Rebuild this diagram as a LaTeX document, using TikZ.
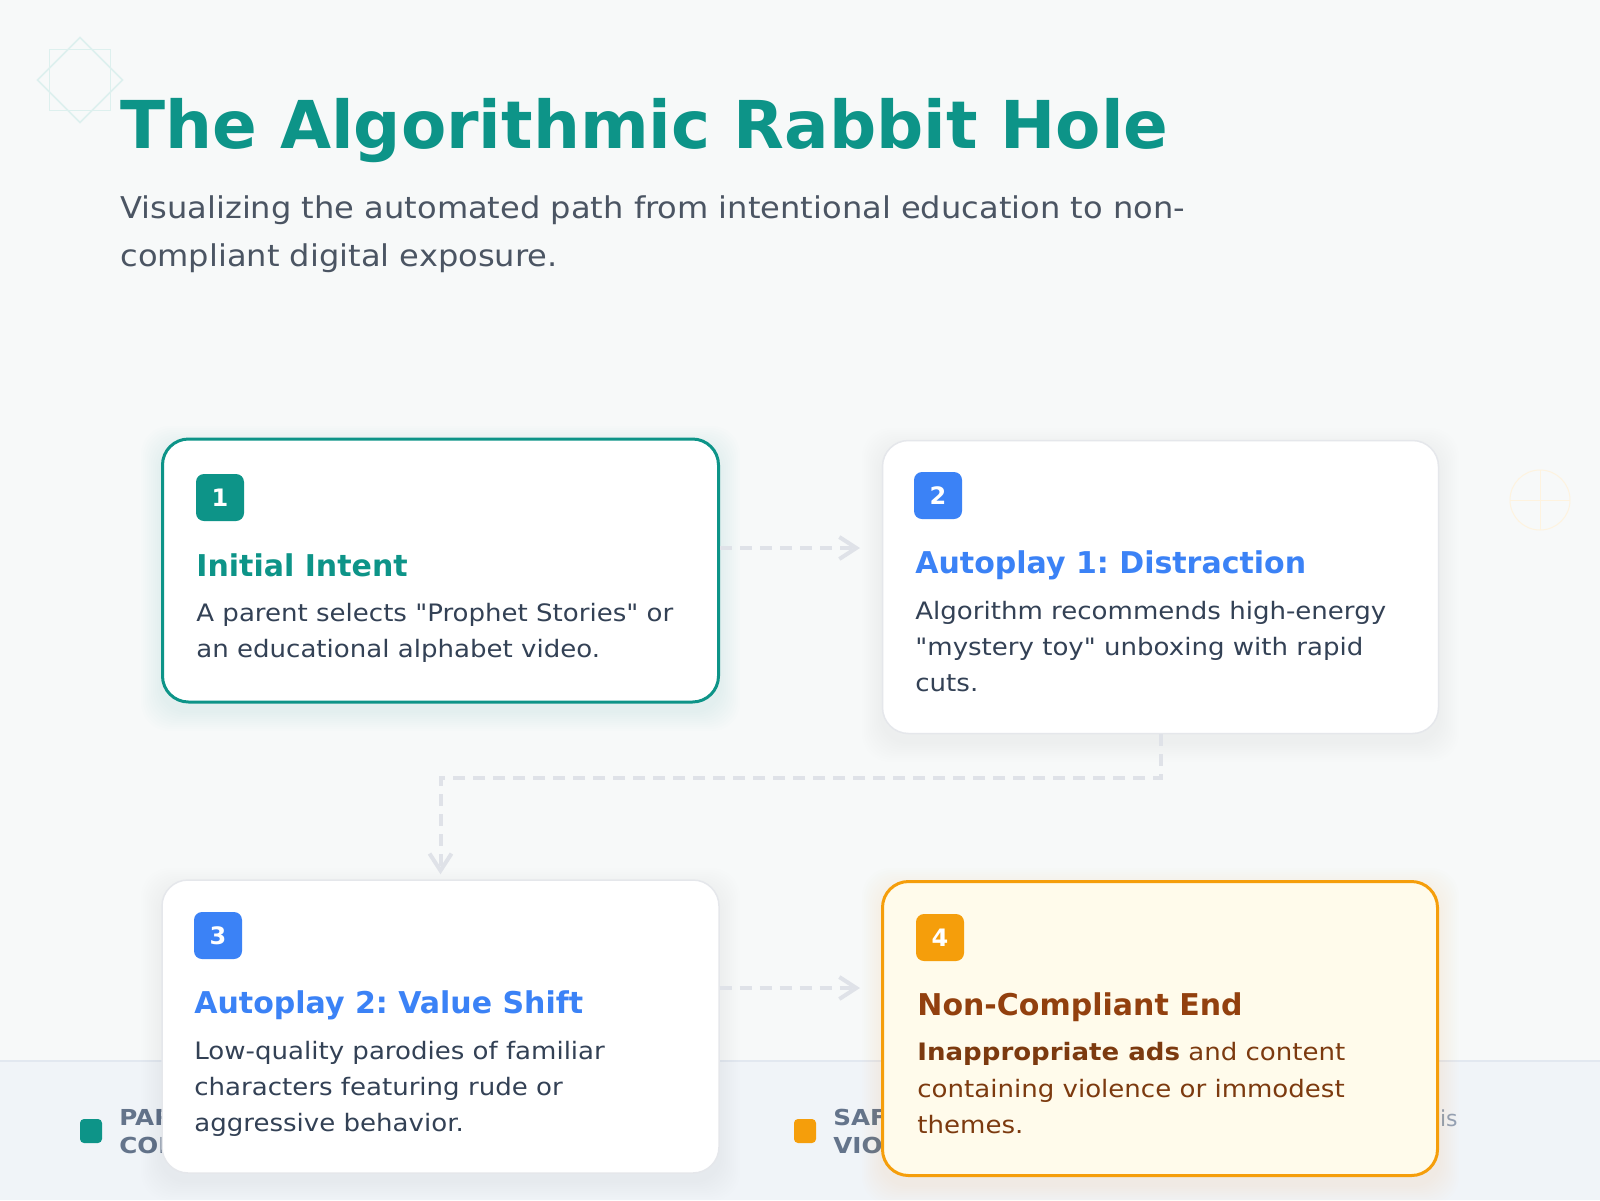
\documentclass[tikz,border=0pt]{standalone}
\usepackage{fontspec}
\setmainfont{DejaVu Sans}[Ligatures=TeXOff]
\newfontfamily\bodyfont{DejaVu Sans}[FakeStretch=1.085,Ligatures=TeXOff]
\newfontfamily\subfont{DejaVu Sans}[FakeStretch=1.07,Ligatures=TeXOff]
\newfontfamily\legfont{DejaVu Sans}[FakeStretch=1.12,Ligatures=TeXOff]
\usetikzlibrary{arrows.meta}
\definecolor{bgc}{HTML}{F7F9F9}
\definecolor{tealc}{HTML}{0D9488}
\definecolor{bluec}{HTML}{3B82F6}
\definecolor{amberc}{HTML}{F59E0B}
\definecolor{brownh}{HTML}{92400E}
\definecolor{brownb}{HTML}{7C3A0F}
\definecolor{amberbg}{HTML}{FFFBEB}
\definecolor{bodyc}{HTML}{334155}
\definecolor{subc}{HTML}{4B5563}
\definecolor{borderc}{HTML}{E5E7EB}
\definecolor{footc}{HTML}{F0F4F8}
\definecolor{footline}{HTML}{E2E8F0}
\definecolor{legc}{HTML}{64748B}
\definecolor{lightc}{HTML}{94A3B8}
\definecolor{dashc}{HTML}{DFE2E8}
\newcommand\myfs[2]{\fontsize{#1}{#2}\selectfont}
\newcommand\cardshadow[6]{%
  \foreach \i in {1,...,10}{%
    \fill[#5,opacity=#6,rounded corners=14pt] ({#1-2*\i},{#2-2*\i+8}) rectangle ({#3+2*\i},{#4+2*\i+8});}}
\frenchspacing
\begin{document}
\begin{tikzpicture}[x=0.5pt,y=-0.5pt,
  card/.style={rectangle,rounded corners=13pt,draw=borderc,line width=0.75pt,fill=white,inner sep=0pt,minimum width=278pt},
  badge/.style={rectangle,rounded corners=4pt,minimum width=24pt,minimum height=23.5pt,inner sep=0pt,text=white,font=\myfs{12}{14}\bfseries},
  head/.style={anchor=base west,inner sep=0pt,font=\myfs{15}{18}\bfseries},
  body/.style={anchor=base west,inner sep=0pt,font=\bodyfont\myfs{12}{18},text=bodyc},
  leg/.style={anchor=base west,inner sep=0pt,font=\legfont\myfs{11}{14}\bfseries,text=legc},
  conn/.style={draw=dashc,line width=2pt,dash pattern=on 6pt off 4pt,-{Straight Barb[length=8.5pt,width=11pt,line width=2pt]}}]
\useasboundingbox (0,0) rectangle (1600,1200);
\fill[bgc] (0,0) rectangle (1600,1200);
% decorations
\draw[tealc!14,line width=0.75pt] (49.5,49.5) rectangle (110.5,110.5);
\draw[tealc!14,line width=0.75pt] (80,37.5) -- (122.5,80) -- (80,122.5) -- (37.5,80) -- cycle;
\draw[amberc!13,line width=0.5pt] (1540,500) circle[radius=15pt];
\draw[amberc!13,line width=0.5pt] (1510,500) -- (1570,500) (1540,470) -- (1540,530);
% title
\node[anchor=base west,inner sep=0pt,font=\myfs{33}{40}\bfseries,text=tealc] (title) at (120,148) {The Algorithmic Rabbit Hole};
\node[anchor=base west,inner sep=0pt,font=\subfont\myfs{15}{24},text=subc] (sub1) at (120,218) {Visualizing the automated path from intentional education to non-};
\node[anchor=base west,inner sep=0pt,font=\subfont\myfs{15}{24},text=subc] (sub2) at (120,266) {compliant digital exposure.};
% footer
\fill[footc] (0,1061) rectangle (1600,1200);
\draw[footline,line width=1pt] (0,1061) -- (1600,1061);
\node[fill=tealc,rounded corners=2pt,minimum width=11pt,minimum height=12pt,inner sep=0pt] (lsq1) at (91,1131) {};
\node[leg] (lt1a) at (119,1125) {PAR};
\node[leg] (lt1b) at (119,1153) {CON};
\node[fill=amberc,rounded corners=2pt,minimum width=11pt,minimum height=12pt,inner sep=0pt] (lsq2) at (805,1131) {};
\node[leg] (lt2a) at (833,1125) {SAF};
\node[leg] (lt2b) at (833,1153) {VIO};
\node[anchor=base east,inner sep=0pt,font=\myfs{11}{14},text=lightc] (lt3) at (1458,1126) {Analysis};
% shadows
\cardshadow{161}{438}{720}{703}{tealc}{0.009}
\cardshadow{882}{440}{1439}{734}{black}{0.004}
\cardshadow{161}{880}{720}{1173}{black}{0.004}
\cardshadow{882}{880}{1439}{1177}{amberc}{0.007}
% cards
\node[card,draw=tealc,line width=1.5pt,minimum width=278pt,minimum height=131.5pt] (c1) at (440.5,570.5) {};
\node[card,minimum width=278pt,minimum height=146.5pt] (c2) at (1160.5,587) {};
\node[card,minimum width=278.5pt,minimum height=146.5pt] (c3) at (440.5,1026.5) {};
\node[card,draw=amberc,fill=amberbg,line width=1.5pt,minimum width=277.5pt,minimum height=147pt] (c4) at (1160,1028.5) {};
% card 1
\node[badge,fill=tealc] (b1) at (220,497.5) {1};
\node[head,text=tealc] (h1) at (196,576) {Initial Intent};
\node[body] (t1a) at (196,621) {A parent selects "Prophet Stories" or};
\node[body] (t1b) at (196,657) {an educational alphabet video.};
% card 2
\node[badge,fill=bluec] (b2) at (938,495.5) {2};
\node[head,text=bluec] (h2) at (915,573) {Autoplay 1: Distraction};
\node[body] (t2a) at (915,619) {Algorithm recommends high-energy};
\node[body] (t2b) at (915,655) {"mystery toy" unboxing with rapid};
\node[body] (t2c) at (915,691) {cuts.};
% card 3
\node[badge,fill=bluec] (b3) at (218,935.5) {3};
\node[head,text=bluec] (h3) at (194,1013) {Autoplay 2: Value Shift};
\node[body] (t3a) at (194,1059) {Low-quality parodies of familiar};
\node[body] (t3b) at (194,1095) {characters featuring rude or};
\node[body] (t3c) at (194,1131) {aggressive behavior.};
% card 4
\node[badge,fill=amberc] (b4) at (940,937.5) {4};
\node[head,text=brownh] (h4) at (917,1015) {Non-Compliant End};
\node[body,text=brownb] (t4a) at (917,1060) {\textbf{Inappropriate ads} and content};
\node[body,text=brownb] (t4b) at (917,1097) {containing violence or immodest};
\node[body,text=brownb] (t4c) at (917,1133) {themes.};
% connectors
\coordinate (a1) at (860,548);
\coordinate (a3) at (860,988);
\draw[conn] (c1.east |- a1) -- (a1);
\draw[conn,shorten >=2.5pt] (c2.south) -- ++(0,44) -| (c3.north);
\draw[conn] (c3.east |- a3) -- (a3);
\end{tikzpicture}
\end{document}
